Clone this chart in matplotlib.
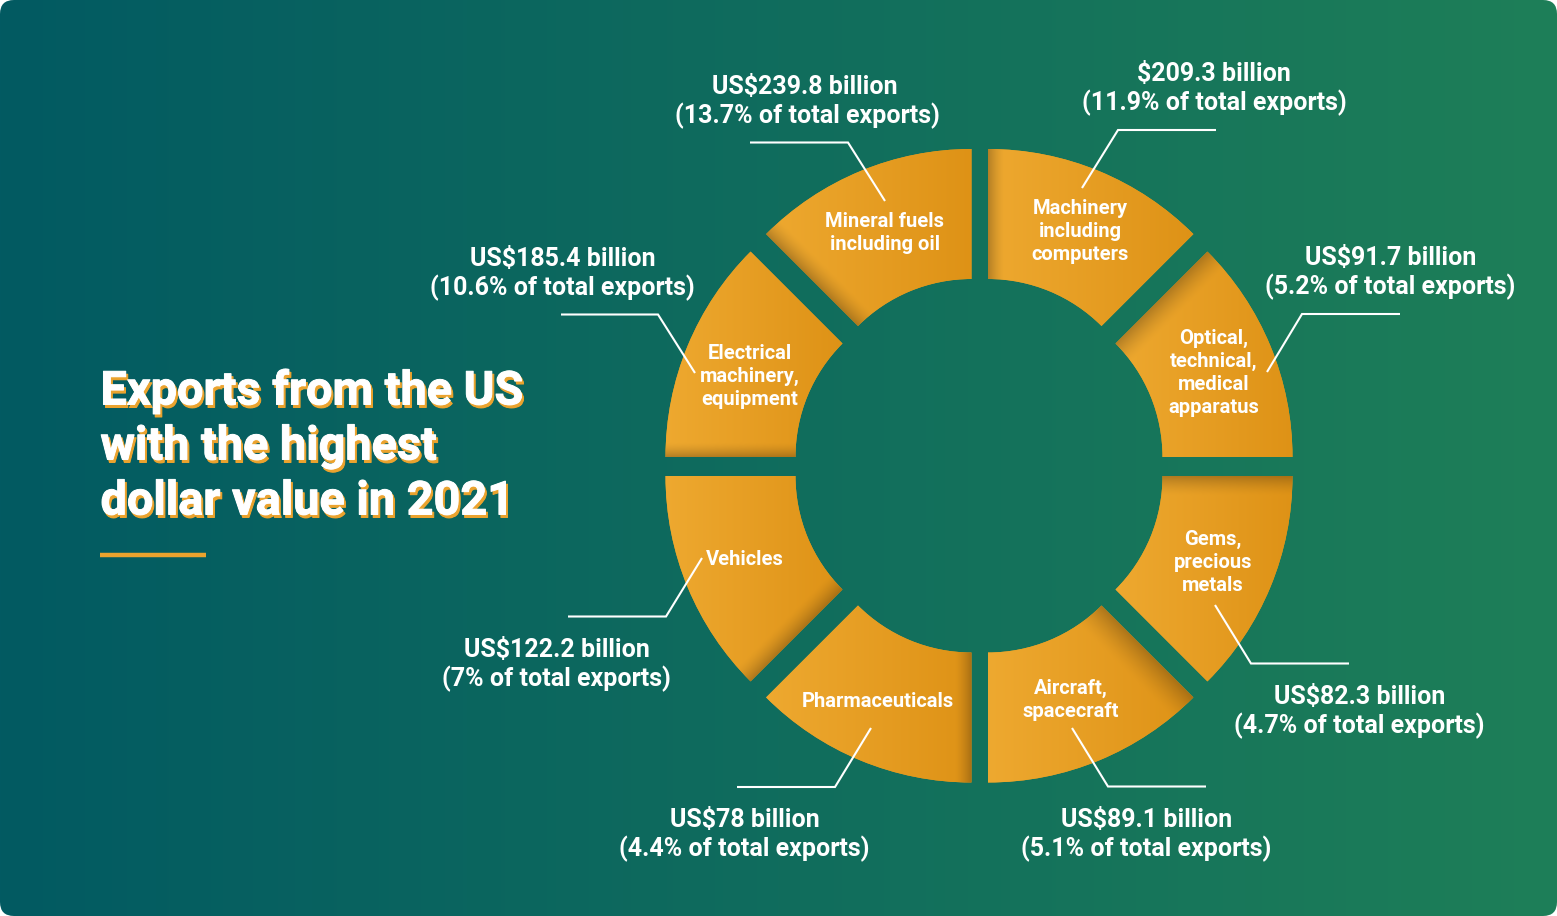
import numpy as np
import matplotlib
matplotlib.use("Agg")
import matplotlib.pyplot as plt
import matplotlib.patheffects as pe
from matplotlib.patches import FancyBboxPatch

W, H = 1557, 916

# ---- data (counter-clockwise from the east) ----
categories = [
    ["Optical,", "technical,", "medical", "apparatus"],
    ["Machinery", "including", "computers"],
    ["Mineral fuels", "including oil"],
    ["Electrical", "machinery,", "equipment"],
    ["Vehicles"],
    ["Pharmaceuticals"],
    ["Aircraft,", "spacecraft"],
    ["Gems,", "precious", "metals"],
]
currency = ["US$", "$", "US$", "US$", "US$", "US$", "US$", "US$"]
billions = [91.7, 209.3, 239.8, 185.4, 122.2, 78, 89.1, 82.3]
shares = [5.2, 11.9, 13.7, 10.6, 7, 4.4, 5.1, 4.7]
title_lines = ["Exports from the US", "with the highest", "dollar value in 2021"]

# ---- layout (pixels, y downward) ----
apex = [(1002, 457), (988, 439.5), (971.5, 439.5), (956, 457),
        (956, 476), (971.5, 492), (988, 492), (1002, 476)]
R_OUT, R_IN = 290.5, 160.5
shadow_w = [24, 17, 20, 15, 20, 17, 30, 20]
label_cx = [1214, 1080.5, 885, 749.5, 745, 878, 1071, 1213]
label_y0 = [337, 207, 220, 352, 558, 700, 687, 538]
call_cx = [1390.5, 1214, 807.5, 562.5, 556.5, 744.5, 1146.5, 1359.5]
call_x1_shift = [0, 0, -3, 0, 0, 0, 0, 0]
call_y0 = [256.5, 72.5, 85, 257, 648, 818, 818, 695]
leaders = [
    [(1400, 314), (1302, 314), (1267, 372)],
    [(1216, 130), (1118, 130), (1082, 188)],
    [(750, 142.5), (848, 142.5), (885, 201)],
    [(561, 314.5), (658, 314.5), (695, 373)],
    [(568, 616.5), (666, 616.5), (702, 558)],
    [(737, 787), (835, 787), (871, 728)],
    [(1206, 786.5), (1108, 786.5), (1072, 728)],
    [(1349, 663.5), (1251, 663.5), (1215, 605)],
]

plt.rcParams["font.family"] = ["Roboto", "DejaVu Sans"]
fig = plt.figure(figsize=(W / 100, H / 100), dpi=100, facecolor="white")
ax = fig.add_axes([0, 0, 1, 1])
ax.set_axis_off()


def Y(y):
    return H - y


# background
c0 = np.array([0x02, 0x5A, 0x62]) / 255
c1 = np.array([0x1E, 0x7F, 0x58]) / 255
t = np.linspace(0, 1, W)[None, :, None]
bg = c0 * (1 - t) + c1 * t
im = ax.imshow(bg, extent=(0, W, 0, H), aspect="auto", zorder=0)
card = FancyBboxPatch((0, 0), W, H, boxstyle="round,pad=0,rounding_size=14",
                      transform=ax.transData, fc="none", ec="none")
ax.add_patch(card)
im.set_clip_path(card)

# donut: eight equal slices, each with its own offset
wedges, _ = ax.pie(np.ones(len(categories)), startangle=0, counterclock=True,
                   radius=R_OUT, center=(979.5, Y(466.5)), frame=True,
                   wedgeprops=dict(width=R_OUT - R_IN, linewidth=0, facecolor="#E59C22"))
g0 = np.array([0xEE, 0xA9, 0x30]) / 255
g1 = np.array([0xDE, 0x92, 0x16]) / 255
sh = np.array([0x40, 0x2C, 0x10]) / 255
for i, wd in enumerate(wedges):
    ax_, ay_ = apex[i]
    wd.set_center((ax_, Y(ay_)))
    wd.set_zorder(1)
    th1, th2 = i * 45.0, (i + 1) * 45.0
    angs = np.radians(np.linspace(th1, th2, 60))
    xs = np.r_[ax_ + R_OUT * np.cos(angs), ax_ + R_IN * np.cos(angs)]
    ys = np.r_[Y(ay_) + R_OUT * np.sin(angs), Y(ay_) + R_IN * np.sin(angs)]
    x0, x1, y0, y1 = np.floor(xs.min()) - 1, np.ceil(xs.max()) + 1, np.floor(ys.min()) - 1, np.ceil(ys.max()) + 1
    gx, gy = np.meshgrid(np.arange(x0, x1) + .5, np.arange(y1, y0, -1) - .5)
    f = ((gx - x0) / (x1 - x0))[..., None]
    rgb = g0 * (1 - f) + g1 * f
    e = np.radians(th2)
    d = (gx - ax_) * np.sin(e) - (gy - Y(ay_)) * np.cos(e)
    a = (0.34 * np.clip(1 - d / shadow_w[i], 0, 1) ** 1.5)[..., None]
    rgb = rgb * (1 - a) + sh * a
    img = ax.imshow(rgb, extent=(x0, x1, y0, y1), aspect="auto", zorder=1.5, interpolation="nearest")
    img.set_clip_path(wd)
ax.set_xlim(0, W)
ax.set_ylim(0, H)
ax.set_aspect("auto")

# leaders
for pts in leaders:
    ax.plot([p[0] for p in pts], [Y(p[1]) for p in pts], color="white", lw=1.5,
            solid_joinstyle="miter", solid_capstyle="butt", zorder=3)

# slice labels
for cx, y0, lines in zip(label_cx, label_y0, categories):
    for k, ln in enumerate(lines):
        ax.text(cx, Y(y0 + 23 * k + 7), ln, ha="center", va="baseline", color="white",
                fontsize=14.5, fontweight="bold", zorder=4)

# value call-outs
for i in range(len(categories)):
    l1 = f"{currency[i]}{billions[i]:g} billion"
    l2 = f"({shares[i]:g}% of total exports)"
    ax.text(call_cx[i] + call_x1_shift[i], Y(call_y0[i] + 9), l1, ha="center", va="baseline",
            color="white", fontsize=18.0, fontweight="bold", zorder=4)
    ax.text(call_cx[i], Y(call_y0[i] + 38), l2, ha="center", va="baseline",
            color="white", fontsize=18.0, fontweight="bold", zorder=4)

# title
for k, ln in enumerate(title_lines):
    yb = Y(404.5 + 55 * k)
    ax.text(102.5, yb - 3, ln, color="#EBA32E", fontsize=33.7, fontweight="bold", ha="left", va="baseline", zorder=4,
            path_effects=[pe.withStroke(linewidth=0.7, foreground="#EBA32E")])
    ax.text(100.5, yb, ln, color="white", fontsize=33.7, fontweight="bold", ha="left", va="baseline", zorder=5,
            path_effects=[pe.withStroke(linewidth=0.7, foreground="white")])
ax.plot([100, 206], [Y(554.5), Y(554.5)], color="#EBA32E", lw=3.2, solid_capstyle="butt", zorder=4)

fig.savefig("out.png", dpi=100, facecolor="white")
